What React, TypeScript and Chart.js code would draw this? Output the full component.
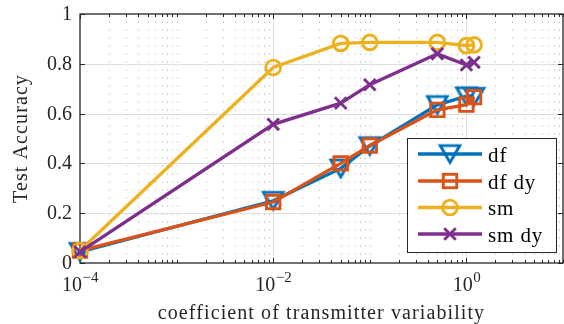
import React, { useEffect, useRef } from 'react';
import { Chart, registerables } from 'chart.js';

Chart.register(...registerables);

// ---- data ----
const xValues = [1e-4, 1e-2, 0.05, 0.1, 0.5, 1, 1.2];
const dfValues = [0.045, 0.25, 0.38, 0.47, 0.635, 0.67, 0.668];
const dfDyValues = [0.05, 0.245, 0.4, 0.472, 0.615, 0.636, 0.666];
const smValues = [0.05, 0.785, 0.882, 0.886, 0.886, 0.873, 0.876];
const smDyValues = [0.045, 0.557, 0.642, 0.716, 0.84, 0.795, 0.806];

const seriesNames = ['df', 'df dy', 'sm', 'sm dy'];
const seriesColors = ['#0072BD', '#D95319', '#EDB120', '#7E2F8E'];

const xMin = 1e-4;
const xMax = 10;
const xLabelExponents = [-4, -2, 0];
const yTickValues = [0, 0.2, 0.4, 0.6, 0.8, 1];
const yTickLabels = ['0', '0.2', '0.4', '0.6', '0.8', '1'];
const xTitle = 'coefficient of transmitter variability';
const yTitle = 'Test Accuracy';

const FONT = '"Liberation Serif", "Times New Roman", serif';
const AXIS_COLOR = '#262626';

function makeTriangle(color: string) {
  const c = document.createElement('canvas');
  const w = 28;
  const h = 25;
  c.width = w;
  c.height = h;
  const g = c.getContext('2d')!;
  g.strokeStyle = color;
  g.lineWidth = 2.9;
  g.lineJoin = 'miter';
  const hw = 9.8;
  const th = 16.8;
  const top = (h - th) / 2;
  g.beginPath();
  g.moveTo(w / 2 - hw, top);
  g.lineTo(w / 2 + hw, top);
  g.lineTo(w / 2, top + th);
  g.closePath();
  g.stroke();
  return c;
}

function allLogTicks() {
  const out: number[] = [];
  for (let e = -4; e <= 0; e++) {
    for (let m = 1; m <= 9; m++) out.push(Number((m * Math.pow(10, e)).toPrecision(6)));
  }
  out.push(10);
  return out;
}

export default function App() {
  const ref = useRef<HTMLCanvasElement | null>(null);

  useEffect(() => {
    const canvas = ref.current!;
    const tri = makeTriangle(seriesColors[0]);
    const seriesValues = [dfValues, dfDyValues, smValues, smDyValues];
    const styles: any[] = [tri, 'rect', 'circle', 'crossRot'];
    const radii = [8, 9.5, 7.4, 8.2];

    const majors = xLabelExponents.map((e) => Math.pow(10, e));
    const ticksAll = allLogTicks();
    const minors = ticksAll.filter((v) => !majors.some((m) => Math.abs(m - v) / m < 1e-6));

    const axesPlugin = {
      id: 'matlabAxes',
      beforeDatasetsDraw(chart: any) {
        const { ctx, chartArea: a, scales } = chart;
        const xs = scales.x;
        const ys = scales.y;
        ctx.save();
        // minor grid (dotted)
        ctx.lineWidth = 1;
        ctx.strokeStyle = '#c4c4c4';
        ctx.setLineDash([1.5, 6.5]);
        for (const v of minors) {
          if (v >= xMax) continue;
          const px = Math.round(xs.getPixelForValue(v)) + 0.5;
          ctx.beginPath();
          ctx.moveTo(px, a.bottom);
          ctx.lineTo(px, a.top);
          ctx.stroke();
        }
        // major grid (solid)
        ctx.setLineDash([]);
        ctx.strokeStyle = '#dedede';
        for (const v of majors) {
          if (v <= xMin) continue;
          const px = Math.round(xs.getPixelForValue(v)) + 0.5;
          ctx.beginPath();
          ctx.moveTo(px, a.bottom);
          ctx.lineTo(px, a.top);
          ctx.stroke();
        }
        for (const v of yTickValues) {
          if (v <= 0 || v >= 1) continue;
          const py = Math.round(ys.getPixelForValue(v)) + 0.5;
          ctx.beginPath();
          ctx.moveTo(a.left, py);
          ctx.lineTo(a.right, py);
          ctx.stroke();
        }
        // box
        ctx.strokeStyle = AXIS_COLOR;
        ctx.lineWidth = 1.3;
        ctx.strokeRect(a.left, a.top, a.right - a.left, a.bottom - a.top);
        // x ticks (inside, bottom and top)
        ctx.lineWidth = 1;
        for (const v of ticksAll) {
          const px = Math.round(xs.getPixelForValue(v)) + 0.5;
          const len = majors.some((m) => Math.abs(m - v) / m < 1e-6) ? 5 : 3;
          ctx.beginPath();
          ctx.moveTo(px, a.bottom);
          ctx.lineTo(px, a.bottom - len);
          ctx.moveTo(px, a.top);
          ctx.lineTo(px, a.top + len);
          ctx.stroke();
        }
        // y ticks (inside, left and right) and labels
        ctx.fillStyle = AXIS_COLOR;
        ctx.font = `20px ${FONT}`;
        ctx.textAlign = 'right';
        ctx.textBaseline = 'middle';
        yTickValues.forEach((v, i) => {
          const py = Math.round(ys.getPixelForValue(v)) + 0.5;
          ctx.beginPath();
          ctx.moveTo(a.left, py);
          ctx.lineTo(a.left + 5, py);
          ctx.moveTo(a.right, py);
          ctx.lineTo(a.right - 5, py);
          ctx.stroke();
          ctx.fillText(yTickLabels[i], a.left - 8, py);
        });
        // x tick labels: 10^e
        ctx.textBaseline = 'alphabetic';
        ctx.textAlign = 'left';
        for (const e of xLabelExponents) {
          const px = xs.getPixelForValue(Math.pow(10, e));
          const base = '10';
          const sup = e < 0 ? '\u2212' + Math.abs(e) : String(e);
          ctx.font = `20px ${FONT}`;
          const wb = ctx.measureText(base).width;
          ctx.font = `15px ${FONT}`;
          const ws = ctx.measureText(sup).width;
          const x0 = px - (wb + ws) / 2;
          ctx.font = `20px ${FONT}`;
          ctx.fillText(base, x0, 291);
          ctx.font = `15px ${FONT}`;
          ctx.fillText(sup, x0 + wb + 0.5, 282);
        }
        // axis titles
        ctx.font = `20px ${FONT}`;
        (ctx as any).letterSpacing = '1.1px';
        ctx.textAlign = 'center';
        ctx.fillText(xTitle, (a.left + a.right) / 2, 319);
        ctx.save();
        ctx.translate(27, (a.top + a.bottom) / 2);
        ctx.rotate(-Math.PI / 2);
        ctx.fillText(yTitle, 0, 0);
        ctx.restore();
        (ctx as any).letterSpacing = '0px';
        ctx.restore();
      },
      afterDatasetsDraw(chart: any) {
        const { ctx } = chart;
        ctx.save();
        const bx = 407.5;
        const by = 138.5;
        const bw = 149;
        const bh = 114;
        ctx.fillStyle = '#ffffff';
        ctx.fillRect(bx, by, bw, bh);
        ctx.strokeStyle = AXIS_COLOR;
        ctx.lineWidth = 1;
        ctx.strokeRect(bx, by, bw, bh);
        const rowsY = [154, 181, 207.5, 234];
        seriesNames.forEach((name, i) => {
          const ly = rowsY[i];
          const col = seriesColors[i];
          ctx.strokeStyle = col;
          ctx.lineWidth = 3.3;
          ctx.beginPath();
          ctx.moveTo(418, ly);
          ctx.lineTo(482, ly);
          ctx.stroke();
          const cx = 450;
          ctx.lineWidth = 2.9;
          if (i === 0) {
            ctx.drawImage(tri, cx - tri.width / 2, ly - tri.height / 2);
          } else if (i === 1) {
            const s = radii[1] * Math.SQRT1_2;
            ctx.strokeRect(cx - s, ly - s, 2 * s, 2 * s);
          } else if (i === 2) {
            ctx.beginPath();
            ctx.arc(cx, ly, radii[2], 0, Math.PI * 2);
            ctx.stroke();
          } else {
            const s = radii[3] * Math.SQRT1_2;
            ctx.beginPath();
            ctx.moveTo(cx - s, ly - s);
            ctx.lineTo(cx + s, ly + s);
            ctx.moveTo(cx - s, ly + s);
            ctx.lineTo(cx + s, ly - s);
            ctx.stroke();
          }
          ctx.fillStyle = '#000000';
          ctx.font = `21px ${FONT}`;
          (ctx as any).letterSpacing = '0.9px';
          ctx.textAlign = 'left';
          ctx.textBaseline = 'alphabetic';
          ctx.fillText(name, 488, ly + 7.5);
          (ctx as any).letterSpacing = '0px';
        });
        ctx.restore();
      },
    };

    const chart = new Chart(canvas, {
      type: 'line',
      data: {
        datasets: seriesNames.map((name, i) => ({
          label: name,
          data: xValues.map((x, j) => ({ x, y: seriesValues[i][j] })),
          borderColor: seriesColors[i],
          backgroundColor: 'rgba(0,0,0,0)',
          borderWidth: 3.3,
          pointStyle: styles[i],
          pointRadius: radii[i],
          pointHoverRadius: radii[i],
          pointBorderWidth: 2.9,
          pointBorderColor: seriesColors[i],
          pointBackgroundColor: 'rgba(0,0,0,0)',
          tension: 0,
          fill: false,
          clip: false as any,
          order: seriesNames.length - i,
        })),
      },
      options: {
        animation: false,
        responsive: false,
        devicePixelRatio: 1,
        events: [],
        layout: { autoPadding: false, padding: { left: 0, right: 1, top: 14, bottom: 0 } },
        plugins: {
          legend: { display: false },
          tooltip: { enabled: false },
          title: { display: false },
        },
        scales: {
          x: {
            type: 'logarithmic',
            min: xMin,
            max: xMax,
            grid: { display: false },
            border: { display: false },
            ticks: { display: false },
            afterFit: (s: any) => {
              s.height = 61;
            },
          },
          y: {
            type: 'linear',
            min: 0,
            max: 1,
            grid: { display: false, drawTicks: false },
            border: { display: false },
            ticks: { display: false },
            afterFit: (s: any) => {
              s.width = 80;
            },
          },
        },
      } as any,
      plugins: [axesPlugin],
    });

    return () => chart.destroy();
  }, []);

  return (
    <div style={{ position: 'absolute', left: 0, top: 0, width: 564, height: 324, background: '#fff' }}>
      <canvas ref={ref} width={564} height={324} style={{ width: 564, height: 324, display: 'block' }} />
    </div>
  );
}
